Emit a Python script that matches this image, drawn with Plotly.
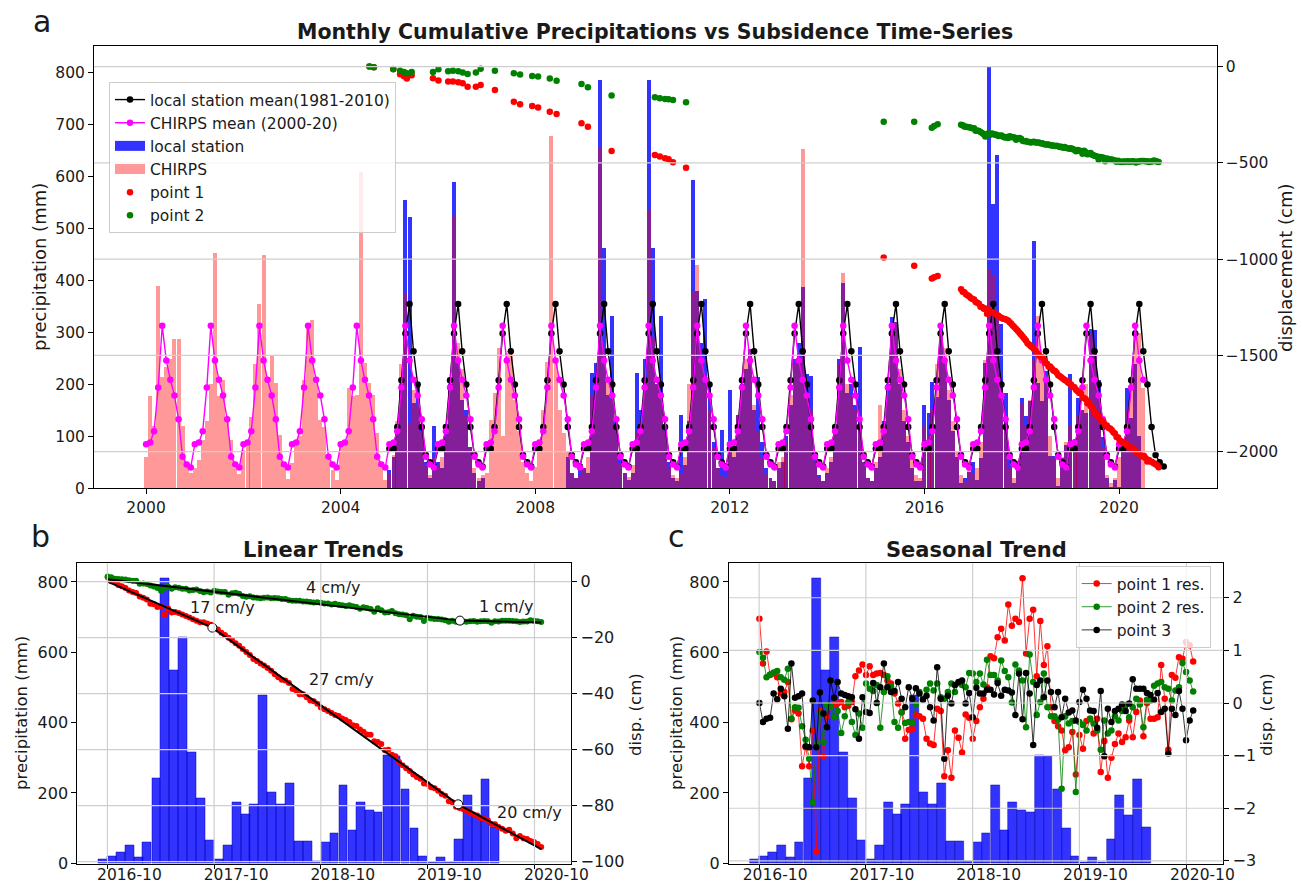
import numpy as np
import pandas as pd
import plotly.graph_objects as go

# ---------------- DATA ----------------
# CHIRPS monthly precipitation (mm), Jan..Dec
chirps_2000 = [61, 178, 120, 390, 215, 234, 250, 287, 287, 120, 48, 30]
chirps_2001 = [40, 55, 93, 130, 200, 453, 177, 209, 138, 93, 40, 28]
chirps_2002 = [74, 93, 138, 240, 355, 450, 215, 254, 202, 103, 40, 18]
chirps_2003 = [48, 93, 100, 209, 313, 325, 209, 132, 119, 55, 35, 16]
chirps_2004 = [87, 93, 193, 177, 180, 610, 241, 202, 180, 106, 40, 16]
chirps_2005 = [30, 65, 130, 240, 374, 125, 190, 160, 110, 45, 25, 60]
chirps_2006 = [45, 60, 100, 210, 527, 280, 230, 140, 80, 40, 20, 25]
chirps_2007 = [29, 132, 183, 270, 100, 260, 260, 170, 110, 50, 30, 15]
chirps_2008 = [42, 74, 150, 244, 678, 244, 151, 106, 70, 30, 20, 25]
chirps_2009 = [40, 60, 177, 183, 658, 266, 209, 170, 119, 48, 29, 22]
chirps_2010 = [45, 110, 130, 215, 538, 290, 200, 180, 110, 40, 25, 20]
chirps_2011 = [30, 60, 200, 380, 430, 250, 200, 150, 80, 40, 25, 20]
chirps_2012 = [70, 80, 140, 200, 250, 268, 160, 110, 60, 30, 20, 15]
chirps_2013 = [50, 60, 90, 180, 240, 250, 653, 180, 150, 50, 20, 15]
chirps_2014 = [40, 60, 120, 240, 414, 200, 180, 150, 120, 50, 20, 15]
chirps_2015 = [50, 160, 110, 180, 300, 320, 230, 150, 100, 60, 25, 20]
chirps_2016 = [120, 100, 150, 240, 300, 270, 190, 130, 70, 25, 15, 40]
chirps_2017 = [30, 40, 90, 247, 421, 408, 330, 200, 120, 40, 20, 50]
chirps_2018 = [164, 120, 170, 250, 331, 250, 200, 100, 60, 20, 60, 90]
chirps_2019 = [120, 90, 140, 150, 200, 300, 260, 170, 80, 25, 10, 20]
chirps_2020 = [60, 80, 150, 215, 305, 300, 193]
chirps_start = "2000-01-01"

# local station monthly precipitation (mm), Jan..Dec (None = missing)
local_2005 = [35, 60, 110, 200, 555, 522, 165, 200, 120, 50, 20, 120]
local_2006 = [50, 40, 110, 200, 590, 241, 170, 150, 80, 30, 15, 20]
local_2007 = [None] * 12
local_2008 = [None] * 8 + [60, 30, 20, 40]
local_2009 = [40, 30, 222, 241, 787, 462, 180, 332, 138, 61, 29, 16]
local_2010 = [30, 222, 150, 250, 787, 462, 200, 332, 120, 50, 20, 15]
local_2011 = [141, 45, 130, 594, 380, 280, 365, 200, 90, 40, 112, 40]
local_2012 = [189, 60, 141, 200, 230, 268, 150, 215, 90, 40, 20, 15]
local_2013 = [40, 50, 100, 160, 250, 280, 388, 220, 216, 60, 25, 15]
local_2014 = [30, 50, 110, 250, 395, 183, 200, 160, 273, 50, 20, 15]
local_2015 = [40, 60, 130, 200, 330, 320, 200, 130, 90, 40, 15, 15]
local_2016 = [160, 145, 205, 176, 318, 247, 170, 110, 60, 11, 19, 31]
local_2017 = [50, 16, 59, 242, 811, 548, 643, 316, 184, 65, 11, 52]
local_2018 = [173, 139, 169, 477, 203, 169, 226, 62, 62, 5, 59, 84]
local_2019 = [221, 95, 173, 150, 145, 306, 304, 209, 98, 19, 3, 16]
local_2020 = [3, 69, 194, 135, 239, 101]
local_start = "2005-01-01"

# monthly climatologies (mm), Jan..Dec
local_mean_month = [76, 76, 118, 208, 298, 355, 264, 200, 118, 64, 50, 42]
chirps_mean_month = [85, 88, 110, 194, 313, 246, 209, 179, 133, 61, 46, 40]
local_mean_span = ("2005-01-01", "2020-12-01")
chirps_mean_span = ("2000-01-01", "2020-07-01")

# early (sparse) displacement of point 1 and point 2 (panel a units)
early_dates = ["2004-08-04", "2004-09-06", "2005-01-30", "2005-03-22", "2005-04-20",
               "2005-05-12", "2005-06-17", "2005-11-24", "2006-01-04", "2006-03-18",
               "2006-04-23", "2006-06-02", "2006-07-05", "2006-08-11", "2006-10-12",
               "2006-11-17", "2007-03-04", "2007-07-24", "2007-09-09", "2007-12-09",
               "2008-01-22", "2008-04-19", "2008-06-09", "2008-12-13", "2009-01-30",
               "2009-07-27", "2010-06-17", "2010-07-24", "2010-09-02", "2010-09-28",
               "2010-10-31", "2011-02-06", "2015-03-01", "2015-10-16", "2016-02-25",
               "2016-03-14", "2016-04-09"]
early_p1 = [0, -3, -12, -40, -50, -62, -45, -60, -72, -78, -78, -81, -86, -104, -104,
            -95, -121, -182, -195, -204, -213, -234, -246, -294, -312, -438, -459, -467,
            -476, -481, -497, -525, -992, -1034, -1100, -1094, -1088]
early_p2 = [0, -3, -14, -21, -28, -35, -28, -28, -14, -24, -22, -24, -30, -38, -31,
            -11, -21, -35, -41, -49, -52, -62, -74, -90, -107, -150, -159, -164, -168,
            -170, -173, -185, -286, -286, -317, -308, -299]

# Sentinel-era acquisitions (first / last date) and seasonal residuals (cm)
acq_first, acq_last = "2016-10-02", "2020-10-24"
res_p1 = [1.60, 0.75, 0.98, 0.53, 0.56, 0.49, 0.18, 0.21, 0.40, -0.31,
          -0.14, -0.20, -1.20, -0.84, -1.20, -0.52, -2.82, -0.14, -1.01, -0.25,
          -0.08, -0.03, -0.01, 0.02, -0.08, -0.05, 0.02, 0.51, 0.62, 0.73,
          0.53, 0.70, 0.53, 0.56, 0.57, 0.53, 0.43, 0.37, 0.18, -0.01,
          -0.18, -0.68, -0.51, -0.50, -0.23, -0.25, -0.30, -0.68, -0.77, -0.80,
          -0.11, -0.15, -1.39, -0.90, -1.42, -0.52, -0.66, -0.94, -0.22, -0.28,
          -0.68, -0.34, -0.08, 0.08, 0.30, 0.89, 0.85, 1.25, 1.41, 1.19,
          1.87, 1.47, 1.60, 1.54, 2.37, 0.94, 1.60, 1.77, 0.51, 1.56,
          0.72, 1.08, -0.08, -0.34, -0.44, -0.52, -0.90, -0.84, -0.55, -1.36,
          -0.61, -0.87, -0.34, -0.30, -0.58, -0.30, -1.31, -0.72, -1.42, -1.04,
          -0.78, -0.58, -0.74, -0.65, -0.33, -0.65, -0.17, 0.05, -0.63, 0.00,
          -0.30, -0.30, -0.27, 0.72, 0.08, -0.89, 0.53, 0.48, 0.87, 0.84,
          1.16, 1.10, 0.79]
res_p2 = [0.97, 0.86, 0.49, 0.54, 0.58, 0.61, 0.49, 0.44, 0.65, -0.30,
          -0.08, -0.09, -0.44, -0.70, -1.06, -1.89, -0.78, -0.20, -0.74, -0.03,
          -0.06, -0.27, -0.15, -0.57, -0.25, 0.02, -0.36, -0.61, -0.20, -0.47,
          0.37, 0.27, 0.23, 0.34, -0.47, 0.21, 0.51, 0.32, -0.36, -0.47,
          -0.17, -0.38, -0.36, -0.38, -0.03, 0.21, 0.08, 0.25, 0.37, 0.24,
          0.37, 0.11, 0.08, 0.21, 0.37, 0.21, 0.38, 0.34, 0.30, 0.57,
          0.56, 0.40, 0.56, 0.35, 0.82, 0.53, 0.53, 0.43, 0.81, 0.61,
          0.49, 0.01, 0.73, 0.62, 0.43, -0.46, 0.92, 0.40, -0.23, 0.02,
          0.56, -0.08, -0.25, -0.25, -0.32, -1.63, -0.25, -0.39, -0.34, -1.69,
          -0.36, -0.42, -0.52, -0.30, -0.39, -0.52, -0.89, -0.33, -0.58, -0.52,
          -0.25, -0.33, -0.15, -0.04, -0.27, -0.08, 0.08, -0.03, -0.46, 0.06,
          0.05, 0.33, 0.37, 0.40, 0.30, 0.27, 0.05, 0.24, 0.30, 0.76,
          0.59, 0.43, 0.22]
res_p3 = [0.00, -0.36, -0.30, -0.28, 0.18, 0.07, 0.27, 0.13, -0.49, 0.75,
          0.10, 0.13, 0.18, -0.82, -0.84, 0.05, -0.84, 0.20, -0.20, -0.46,
          0.43, 0.10, 0.40, 0.18, 0.15, 0.13, 0.11, -0.12, -0.68, 0.11,
          -0.17, -0.19, 0.38, 0.00, 0.30, 0.75, 0.30, 0.21, 0.23, 0.40,
          0.08, -0.08, 0.30, 0.08, 0.28, 0.18, 0.06, 0.14, -0.08, -0.33,
          0.68, 0.08, -1.06, 0.14, -0.01, 0.34, 0.40, 0.43, -0.01, 0.19,
          -0.27, 0.29, 0.18, 0.18, 0.25, 0.25, 0.16, 0.38, 0.14, 0.25,
          0.24, 0.20, -0.23, 0.56, -0.31, 0.57, 0.18, -0.80, 0.34, 0.43,
          0.11, 0.43, 0.21, -0.08, 0.21, -0.27, 0.08, -0.18, -0.14, -0.33,
          0.02, 0.25, 0.08, -0.14, -0.15, -0.47, 0.23, -1.01, -0.11, -0.36,
          -0.15, -0.11, -0.03, -0.15, -0.01, 0.45, 0.27, 0.27, 0.27, 0.19,
          0.15, 0.06, 0.19, -0.17, -0.11, -0.96, -0.11, -0.23, 0.23, -0.11,
          -0.71, -0.33, -0.14]

# piecewise linear trends (cm)
trend_p1_dates = ["2016-10-02", "2017-09-25", "2020-01-14", "2020-10-24"]
trend_p1_cm = [0.0, -16.4, -79.5, -95.5]
trend_p2_dates = ["2016-10-02", "2020-01-20", "2020-10-24"]
trend_p2_cm = [0.9, -13.9, -14.6]
rate_labels = ["4 cm/y", "17 cm/y", "27 cm/y", "1 cm/y", "20 cm/y"]

# relation between panel-b cm series and the long panel-a series
p1_long_offset, p1_long_scale = -1171.0, 9.6
p2_long_offset, p2_long_scale = -324.0, 11.9

# tick values
a_years = [2000, 2004, 2008, 2012, 2016, 2020]
a_left_ticks = [0, 100, 200, 300, 400, 500, 600, 700, 800]
a_right_ticks = [0, -500, -1000, -1500, -2000]
bc_years = [2016, 2017, 2018, 2019, 2020]
bc_left_ticks = [0, 200, 400, 600, 800]
b_right_ticks = [0, -20, -40, -60, -80, -100]
c_right_ticks = [2, 1, 0, -1, -2, -3]

# ---------------- DERIVED ----------------
chirps_values = (chirps_2000 + chirps_2001 + chirps_2002 + chirps_2003 + chirps_2004 +
                 chirps_2005 + chirps_2006 + chirps_2007 + chirps_2008 + chirps_2009 +
                 chirps_2010 + chirps_2011 + chirps_2012 + chirps_2013 + chirps_2014 +
                 chirps_2015 + chirps_2016 + chirps_2017 + chirps_2018 + chirps_2019 +
                 chirps_2020)
chirps_dates = pd.date_range(chirps_start, periods=len(chirps_values), freq="MS")
local_values = (local_2005 + local_2006 + local_2007 + local_2008 + local_2009 +
                local_2010 + local_2011 + local_2012 + local_2013 + local_2014 +
                local_2015 + local_2016 + local_2017 + local_2018 + local_2019 +
                local_2020)
local_dates = pd.date_range(local_start, periods=len(local_values), freq="MS")

lm_dates = pd.date_range(local_mean_span[0], local_mean_span[1], freq="MS")
lm_vals = [local_mean_month[d.month - 1] for d in lm_dates]
cm_dates = pd.date_range(chirps_mean_span[0], chirps_mean_span[1], freq="MS")
cm_vals = [chirps_mean_month[d.month - 1] for d in cm_dates]

acq_dates = pd.date_range(acq_first, acq_last, periods=len(res_p1))
t_acq = acq_dates.asi8.astype(float)
trend1_at = np.interp(t_acq, pd.to_datetime(trend_p1_dates).asi8.astype(float), trend_p1_cm)
trend2_at = np.interp(t_acq, pd.to_datetime(trend_p2_dates).asi8.astype(float), trend_p2_cm)
p1_cm = trend1_at + np.array(res_p1)
p2_cm = trend2_at + np.array(res_p2)

p1_long_x = list(pd.to_datetime(early_dates)) + list(acq_dates)
p1_long_y = early_p1 + list(p1_long_offset + p1_long_scale * p1_cm)
p2_long_x = list(pd.to_datetime(early_dates)) + list(acq_dates)
p2_long_y = early_p2 + list(p2_long_offset + p2_long_scale * p2_cm)

sub_mask = local_dates >= pd.Timestamp("2016-10-01")
sub_dates = local_dates[sub_mask] - pd.Timedelta(days=15)
sub_vals = [v for v, m in zip(local_values, sub_mask) if m]

MONTH_MS = 30 * 24 * 3600 * 1000
FONT = "DejaVu Sans"
TXT = "#1a1a1a"
BLUE = "rgba(0,0,255,0.8)"
SALMON = "rgba(255,0,0,0.4)"
GREEN = "#008000"
GRID = "#cfcfcf"

def minus(v):
    return str(v).replace("-", "\u2212")

fig = go.Figure()

# ---------------- PANEL A ----------------
fig.add_trace(go.Bar(x=local_dates, y=local_values, width=MONTH_MS, marker=dict(color=BLUE, line=dict(width=0)),
                     showlegend=False, xaxis="x", yaxis="y"))
fig.add_trace(go.Bar(x=chirps_dates, y=chirps_values, width=MONTH_MS, marker=dict(color=SALMON, line=dict(width=0)),
                     showlegend=False, xaxis="x", yaxis="y"))
fig.add_trace(go.Scatter(x=lm_dates, y=lm_vals, mode="lines+markers", name="local station mean(1981-2010)",
                         line=dict(color="black", width=1.4), marker=dict(color="black", size=6.5),
                         xaxis="x", yaxis="y"))
fig.add_trace(go.Scatter(x=cm_dates, y=cm_vals, mode="lines+markers", name="CHIRPS mean (2000-20)",
                         line=dict(color="magenta", width=1.4), marker=dict(color="magenta", size=6.5),
                         xaxis="x", yaxis="y"))
fig.add_trace(go.Scatter(x=[None], y=[None], mode="lines", name="local station",
                         line=dict(color=BLUE, width=11), xaxis="x", yaxis="y"))
fig.add_trace(go.Scatter(x=[None], y=[None], mode="lines", name="CHIRPS",
                         line=dict(color="rgba(255,153,153,1)", width=11), xaxis="x", yaxis="y"))
fig.add_trace(go.Scatter(x=p1_long_x, y=p1_long_y, mode="markers", name="point 1",
                         marker=dict(color="red", size=6.5), xaxis="x", yaxis="y2"))
fig.add_trace(go.Scatter(x=p2_long_x, y=p2_long_y, mode="markers", name="point 2",
                         marker=dict(color=GREEN, size=6.5), xaxis="x", yaxis="y2"))

# ---------------- PANEL B ----------------
fig.add_trace(go.Bar(x=sub_dates, y=sub_vals, width=MONTH_MS,
                     marker=dict(color=BLUE, line=dict(width=0.6, color="rgba(0,0,170,0.8)")),
                     showlegend=False, xaxis="x2", yaxis="y3"))
fig.add_trace(go.Scatter(x=acq_dates, y=p1_cm, mode="markers", marker=dict(color="red", size=6),
                         showlegend=False, xaxis="x2", yaxis="y4"))
fig.add_trace(go.Scatter(x=acq_dates, y=p2_cm, mode="markers", marker=dict(color=GREEN, size=6),
                         showlegend=False, xaxis="x2", yaxis="y4"))
fig.add_trace(go.Scatter(x=pd.to_datetime(trend_p1_dates), y=trend_p1_cm, mode="lines",
                         line=dict(color="black", width=2), showlegend=False, xaxis="x2", yaxis="y4"))
fig.add_trace(go.Scatter(x=pd.to_datetime(trend_p2_dates), y=trend_p2_cm, mode="lines",
                         line=dict(color="black", width=2), showlegend=False, xaxis="x2", yaxis="y4"))
bp_x = [pd.Timestamp(trend_p1_dates[1]), pd.Timestamp(trend_p1_dates[2]), pd.Timestamp(trend_p2_dates[1])]
bp_y = [trend_p1_cm[1], trend_p1_cm[2], trend_p2_cm[1]]
fig.add_trace(go.Scatter(x=bp_x, y=bp_y, mode="markers",
                         marker=dict(color="white", size=9, line=dict(color="black", width=1)),
                         showlegend=False, xaxis="x2", yaxis="y4"))

# ---------------- PANEL C ----------------
fig.add_trace(go.Bar(x=sub_dates, y=sub_vals, width=MONTH_MS,
                     marker=dict(color=BLUE, line=dict(width=0.6, color="rgba(0,0,170,0.8)")),
                     showlegend=False, xaxis="x3", yaxis="y5"))
for name, vals, col in [("point 1 res.", res_p1, "red"), ("point 2 res.", res_p2, GREEN),
                        ("point 3", res_p3, "black")]:
    fig.add_trace(go.Scatter(x=acq_dates, y=vals, mode="lines+markers", name=name,
                             line=dict(color=col, width=0.8), marker=dict(color=col, size=6.5),
                             legend="legend2", xaxis="x3", yaxis="y6"))

# ---------------- LAYOUT ----------------
W, H = 1302, 886
def px(x):
    return x / W
def py(y):
    return (H - y) / H

tickfont_a = dict(family=FONT, size=15.5, color=TXT)
tickfont_bc = dict(family=FONT, size=16, color=TXT)
tickfont_bcx = dict(family=FONT, size=15.5, color=TXT)
common_ax = dict(showgrid=False, zeroline=False, ticks="outside", ticklen=5, tickcolor="black",
                 automargin=False)
common_xbc = dict(showgrid=False, zeroline=False, ticks="outside", ticklen=4, tickcolor="black",
                  automargin=False, ticklabelstandoff=-8)

bc_range = ["2016-06-20", "2021-02-04"]
bc_tickvals = [f"{y}-10-01" for y in bc_years]
bc_ticktext = [f"{y}-10" for y in bc_years]

fig.update_layout(
    width=W, height=H, margin=dict(l=0, r=0, t=0, b=0),
    paper_bgcolor="white", plot_bgcolor="white", barmode="overlay", bargap=0,
    font=dict(family=FONT, color=TXT),
    xaxis=dict(domain=[px(94), px(1216.7)], anchor="y", type="date", range=["1998-12-06", "2022-01-03"],
               tickvals=[f"{y}-01-01" for y in a_years], ticktext=[str(y) for y in a_years],
               tickfont=tickfont_a, showline=True, linecolor="black", linewidth=1, mirror=True, **common_ax),
    yaxis=dict(domain=[py(488.3), py(46)], anchor="x", range=[0, 852], tickvals=a_left_ticks,
               tickfont=tickfont_a, showline=True, linecolor="black", linewidth=1, mirror=True, **common_ax),
    yaxis2=dict(overlaying="y", anchor="x", side="right", range=[-2190, 107], tickvals=a_right_ticks,
                ticktext=[minus(v) for v in a_right_ticks], tickfont=tickfont_a, showline=False, **common_ax),
    xaxis2=dict(domain=[px(77.3), px(571.3)], anchor="y3", type="date", range=bc_range,
                tickvals=bc_tickvals, ticktext=bc_ticktext, ticklabelshift=22, tickfont=tickfont_bcx,
                showline=True, linecolor="black", linewidth=1, mirror=True, **common_xbc),
    yaxis3=dict(domain=[py(864.3), py(563.3)], anchor="x2", range=[-3, 853], tickvals=bc_left_ticks,
                tickfont=tickfont_bc, showline=True, linecolor="black", linewidth=1, mirror=True, **common_ax),
    yaxis4=dict(overlaying="y3", anchor="x2", side="right", range=[-100.93, 6.57], tickvals=b_right_ticks,
                ticktext=[minus(v) for v in b_right_ticks], tickfont=tickfont_bc, showline=False, **common_ax),
    xaxis3=dict(domain=[px(729), px(1223.3)], anchor="y5", type="date", range=bc_range,
                tickvals=bc_tickvals, ticktext=bc_ticktext, ticklabelshift=16, tickfont=tickfont_bcx,
                showline=True, linecolor="black", linewidth=1, mirror=True, **common_xbc),
    yaxis5=dict(domain=[py(864.3), py(563.3)], anchor="x3", range=[-3, 853], tickvals=bc_left_ticks,
                tickfont=tickfont_bc, showline=True, linecolor="black", linewidth=1, mirror=True, **common_ax),
    yaxis6=dict(overlaying="y5", anchor="x3", side="right", range=[-3.065, 2.655], tickvals=c_right_ticks,
                ticktext=[minus(v) for v in c_right_ticks], tickfont=tickfont_bc, showline=False, **common_ax),
    legend=dict(x=px(109), y=py(82), xanchor="left", yanchor="top", bgcolor="rgba(255,255,255,0.8)",
                bordercolor="#cccccc", borderwidth=1, font=dict(family=FONT, size=15.5, color=TXT),
                tracegroupgap=0),
    legend2=dict(x=px(1075.7), y=py(566), xanchor="left", yanchor="top", bgcolor="rgba(255,255,255,0.8)",
                 bordercolor="#cccccc", borderwidth=1, font=dict(family=FONT, size=15.5, color=TXT),
                 tracegroupgap=0),
)

# gridlines (drawn above bars, like the twin-axis grid of the original)
shapes = []
for v in a_right_ticks:
    shapes.append(dict(type="line", xref="x domain", x0=0, x1=1, yref="y2", y0=v, y1=v,
                       line=dict(color=GRID, width=1.2), layer="above"))
for v in b_right_ticks:
    shapes.append(dict(type="line", xref="x2 domain", x0=0, x1=1, yref="y4", y0=v, y1=v,
                       line=dict(color=GRID, width=1.2), layer="above"))
for v in c_right_ticks:
    shapes.append(dict(type="line", xref="x3 domain", x0=0, x1=1, yref="y6", y0=v, y1=v,
                       line=dict(color=GRID, width=1.2), layer="above"))
for d in bc_tickvals:
    shapes.append(dict(type="line", xref="x2", x0=d, x1=d, yref="y3 domain", y0=0, y1=1,
                       line=dict(color=GRID, width=1.2), layer="above"))
    shapes.append(dict(type="line", xref="x3", x0=d, x1=d, yref="y5 domain", y0=0, y1=1,
                       line=dict(color=GRID, width=1.2), layer="above"))
fig.update_layout(shapes=shapes)

ann = []
def text(x, y, s, size, bold=False, angle=0):
    ann.append(dict(x=px(x), y=py(y), xref="paper", yref="paper", text=("<b>%s</b>" % s) if bold else s,
                    showarrow=False, textangle=angle, xanchor="center", yanchor="middle",
                    font=dict(family=FONT, size=size, color=TXT)))

text(655, 32, "Monthly Cumulative Precipitations vs Subsidence Time-Series", 20.5, bold=True)
text(323, 550, "Linear Trends", 21, bold=True)
text(977, 550, "Seasonal Trend", 21, bold=True)
text(42, 22, "a", 30)
text(40, 536, "b", 30)
text(677, 536, "c", 30)
text(40, 267, "precipitation (mm)", 18, angle=-90)
text(1285, 268, "displacement (cm)", 18, angle=-90)
text(21, 713, "precipitation (mm)", 16.5, angle=-90)
text(635, 715, "disp. (cm)", 16.5, angle=-90)
text(676, 713, "precipitation (mm)", 16.5, angle=-90)
text(1266, 715, "disp. (cm)", 16.5, angle=-90)
rate_pos = [(333, 587), (222, 607), (342, 679), (506, 606), (529, 812)]
for (x, y), s in zip(rate_pos, rate_labels):
    text(x, y, s, 16)
fig.update_layout(annotations=ann)

fig.write_html("out.html", config={"displayModeBar": False},
               post_script="document.body.style.margin='0';document.body.style.overflow='hidden';")
